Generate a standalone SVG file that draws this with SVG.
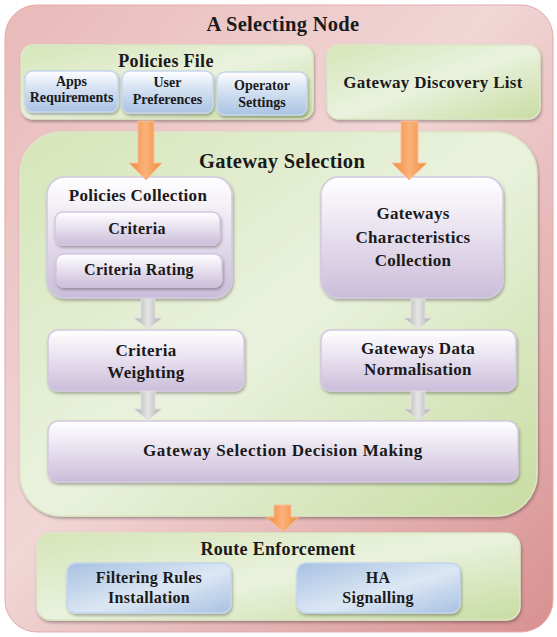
<svg xmlns="http://www.w3.org/2000/svg" width="557" height="637" viewBox="0 0 557 637">
<defs>
<linearGradient id="gRed" x1="0" y1="0" x2="1" y2="1">
<stop offset="0" stop-color="#e9b9b9"/>
<stop offset="0.45" stop-color="#f1d6d6"/>
<stop offset="1" stop-color="#d89090"/>
</linearGradient>
<linearGradient id="gGreen" x1="0" y1="0" x2="1" y2="1">
<stop offset="0" stop-color="#d5e5b8"/>
<stop offset="0.5" stop-color="#eaf2de"/>
<stop offset="1" stop-color="#c8dca2"/>
</linearGradient>
<linearGradient id="gBlue" x1="0" y1="0" x2="0" y2="1">
<stop offset="0" stop-color="#ffffff"/>
<stop offset="0.35" stop-color="#dbe6f4"/>
<stop offset="1" stop-color="#a9c3e3"/>
</linearGradient>
<linearGradient id="gBlue2" x1="0" y1="0" x2="1" y2="1">
<stop offset="0" stop-color="#a7c1e2"/>
<stop offset="0.55" stop-color="#dce7f4"/>
<stop offset="1" stop-color="#a7c1e2"/>
</linearGradient>
<linearGradient id="gPurple" x1="0" y1="0" x2="0" y2="1">
<stop offset="0" stop-color="#ffffff"/>
<stop offset="0.4" stop-color="#ebe5f1"/>
<stop offset="1" stop-color="#cbbdda"/>
</linearGradient>
<linearGradient id="gOrange" x1="0" y1="0" x2="1" y2="0">
<stop offset="0" stop-color="#f08a3a"/>
<stop offset="0.5" stop-color="#fbb27a"/>
<stop offset="1" stop-color="#f08a3a"/>
</linearGradient>
<linearGradient id="gGray" x1="0" y1="0" x2="1" y2="0">
<stop offset="0" stop-color="#a8a8a8"/>
<stop offset="0.5" stop-color="#e6e6e6"/>
<stop offset="1" stop-color="#a8a8a8"/>
</linearGradient>
<filter id="sh" x="-10%" y="-10%" width="120%" height="130%">
<feDropShadow dx="1" dy="2" stdDeviation="1.5" flood-color="#000" flood-opacity="0.3"/>
</filter>
</defs>
<style>
text{font-family:"Liberation Serif","DejaVu Serif",serif;font-weight:bold;fill:#1a1a1a;text-anchor:middle;letter-spacing:0.3px}
.red{fill:url(#gRed);stroke:#e3aaaa;stroke-width:1}
.green{fill:url(#gGreen);stroke:#dbe8c6;stroke-width:1.5;filter:url(#sh)}
.blue{fill:url(#gBlue);stroke:#c5d6ec;stroke-width:1.5;filter:url(#sh)}
.blue2{fill:url(#gBlue2);stroke:#c5d6ec;stroke-width:1.5;filter:url(#sh)}
.purple{fill:url(#gPurple);stroke:#d4c8e0;stroke-width:1.5;filter:url(#sh)}
.oarrow{fill:url(#gOrange);stroke:#f7c09a;stroke-width:1}
.garrow{fill:url(#gGray);stroke:#e0e0e0;stroke-width:1}
.t18{font-size:20.5px}
.t16{font-size:18px}
.t15{font-size:17px}
.t14{font-size:16px}
.t12{font-size:14px;letter-spacing:0}
</style>

<g id="selecting-node">
<rect class="red" x="5" y="5" width="548" height="627" rx="32"/>
<text class="t18" x="283" y="31">A Selecting Node</text>
</g>

<g id="policies-file">
<rect class="green" x="21" y="45" width="292" height="74" rx="12"/>
<text class="t16" x="166" y="67">Policies File</text>
</g>
<g id="apps-requirements">
<rect class="blue" x="25" y="71" width="93" height="41" rx="8"/>
<text class="t12" x="71.5" y="86">Apps</text>
<text class="t12" x="71.5" y="102">Requirements</text>
</g>
<g id="user-preferences">
<rect class="blue" x="122" y="71" width="91" height="42" rx="8"/>
<text class="t12" x="167.5" y="87">User</text>
<text class="t12" x="167.5" y="104">Preferences</text>
</g>
<g id="operator-settings">
<rect class="blue" x="217" y="72" width="90" height="43" rx="8"/>
<text class="t12" x="262" y="90">Operator</text>
<text class="t12" x="262" y="107">Settings</text>
</g>

<g id="gateway-discovery-list">
<rect class="green" x="327" y="45" width="213" height="74" rx="12"/>
<text class="t15" x="433" y="88">Gateway Discovery List</text>
</g>

<g id="gateway-selection">
<rect class="green" x="20" y="132" width="517" height="384" rx="42"/>
<text class="t18" x="282" y="168">Gateway Selection</text>
</g>

<g id="policies-collection">
<rect class="purple" x="47" y="177" width="185" height="121" rx="18"/>
<text class="t15" x="138" y="201">Policies Collection</text>
</g>
<g id="criteria">
<rect class="purple" x="55" y="212" width="165" height="33" rx="8"/>
<text class="t14" x="137" y="234">Criteria</text>
</g>
<g id="criteria-rating">
<rect class="purple" x="56" y="254" width="166" height="33" rx="8"/>
<text class="t14" x="139" y="275">Criteria Rating</text>
</g>

<g id="gateways-characteristics-collection">
<rect class="purple" x="321" y="177" width="182" height="121" rx="18"/>
<text class="t15" x="413" y="219">Gateways</text>
<text class="t15" x="413" y="243">Characteristics</text>
<text class="t15" x="413" y="266">Collection</text>
</g>

<g id="criteria-weighting">
<rect class="purple" x="48" y="330" width="196" height="61" rx="10"/>
<text class="t15" x="146" y="356">Criteria</text>
<text class="t15" x="146" y="378">Weighting</text>
</g>

<g id="gateways-data-normalisation">
<rect class="purple" x="321" y="330" width="195" height="61" rx="10"/>
<text class="t15" x="418" y="354">Gateways Data</text>
<text class="t15" x="418" y="375">Normalisation</text>
</g>

<g id="decision-making">
<rect class="purple" x="48" y="421" width="470" height="61" rx="10"/>
<text class="t15" x="283" y="456" style="letter-spacing:0.6px">Gateway Selection Decision Making</text>
</g>

<g id="route-enforcement">
<rect class="green" x="37" y="533" width="483" height="87" rx="14"/>
<text class="t16" x="278" y="555">Route Enforcement</text>
</g>
<g id="filtering-rules-installation">
<rect class="blue2" x="67" y="563" width="164" height="50" rx="9"/>
<text class="t14" x="149" y="583">Filtering Rules</text>
<text class="t14" x="149" y="603">Installation</text>
</g>
<g id="ha-signalling">
<rect class="blue2" x="297" y="563" width="163" height="50" rx="9"/>
<text class="t14" x="378" y="583">HA</text>
<text class="t14" x="378" y="603">Signalling</text>
</g>

<g id="connectors">
<path class="oarrow" d="M138,121 H154 V163 H162 L146,180 L129,163 H138 Z"/>
<path class="oarrow" d="M401,121 H418 V163 H427 L409,180 L392,163 H401 Z"/>
<path class="oarrow" d="M274,505 H291 V517 H299 L283,532 L266,517 H274 Z"/>
<path class="garrow" d="M141,299 H155 V318 H162 L148,329 L134,318 H141 Z"/>
<path class="garrow" d="M411,299 H425 V318 H432 L418,329 L404,318 H411 Z"/>
<path class="garrow" d="M141,391 H155 V409 H162 L148,420 L134,409 H141 Z"/>
<path class="garrow" d="M411,391 H425 V409 H432 L418,420 L404,409 H411 Z"/>
</g>
</svg>
